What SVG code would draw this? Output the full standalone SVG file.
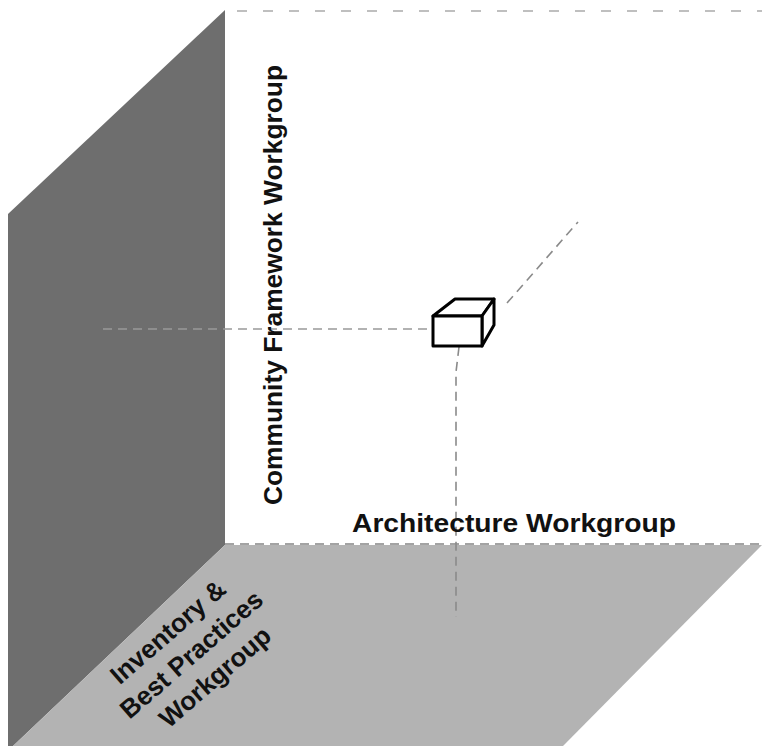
<svg xmlns="http://www.w3.org/2000/svg" width="762" height="746" viewBox="0 0 762 746">
<style>
.dash{fill:none;stroke:#8a8a8a;stroke-width:1.6;stroke-dasharray:9 6}
.lbl{font-family:"Liberation Sans",Arial,sans-serif;font-weight:bold;font-size:25px;fill:#111}
.cube{fill:#fff;stroke:#000;stroke-width:3;stroke-linejoin:round}
</style>
<rect width="762" height="746" fill="#fff"/>
<g id="wall">
<polygon points="8,214 225,10 225,545 13,746 8,746" fill="#6e6e6e"/>
</g>
<g id="floor">
<polygon points="225,545 762,545 563,746 13,746" fill="#b3b3b3"/>
</g>
<g id="connectors">
<line class="dash" x1="237" y1="11" x2="762" y2="11" style="stroke-dasharray:10 16;stroke:#aaa"/>
<line class="dash" x1="225" y1="544" x2="762" y2="544" style="stroke:#858585"/>
<line class="dash" x1="103" y1="329" x2="433" y2="329" style="stroke:#999"/>
<path class="dash" d="M459,347 L456,372 L456,617"/>
<line class="dash" x1="507" y1="303" x2="578" y2="222"/>
</g>
<g id="cube">
<polygon class="cube" points="433,316 455,299 494,299 482,316"/>
<polygon class="cube" points="482,316 494,299 494,325 482,346"/>
<rect class="cube" x="433" y="316" width="49" height="30"/>
</g>
<g id="community-label">
<text class="lbl" transform="translate(282,505) rotate(-90)" x="0" y="0" textLength="440" lengthAdjust="spacingAndGlyphs">Community Framework Workgroup</text>
</g>
<g id="architecture-label">
<text class="lbl" x="352" y="532" textLength="324" lengthAdjust="spacingAndGlyphs">Architecture Workgroup</text>
</g>
<g id="inventory-label">
<g transform="translate(191,654) rotate(-41)" style="font-size:26px">
<text class="lbl" x="-3" y="-23" text-anchor="middle" style="font-size:26px">Inventory &amp;</text>
<text class="lbl" x="0" y="9.5" text-anchor="middle" style="font-size:26px">Best Practices</text>
<text class="lbl" x="3" y="42" text-anchor="middle" style="font-size:26px">Workgroup</text>
</g>
</g>
</svg>
